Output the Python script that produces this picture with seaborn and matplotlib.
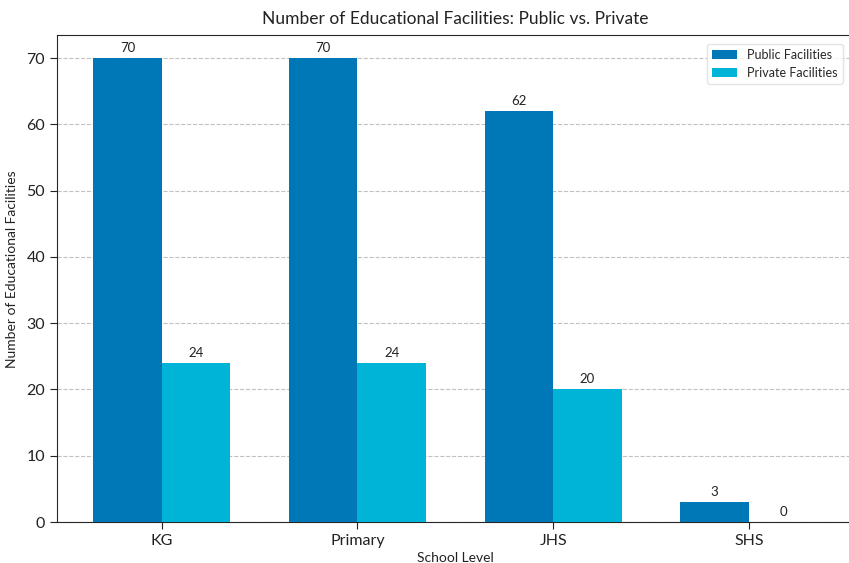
import matplotlib
matplotlib.use("Agg")
import matplotlib.pyplot as plt
import seaborn as sns
import pandas as pd

levels = ["KG", "Primary", "JHS", "SHS"]
public = [70, 70, 62, 3]
private = [24, 24, 20, 0]
series_names = ["Public Facilities", "Private Facilities"]
colors = ["#0077b6", "#00b4d8"]

df = pd.DataFrame({
    "School Level": levels * 2,
    "Count": public + private,
    "Type": [series_names[0]] * len(levels) + [series_names[1]] * len(levels),
})

sns.set_style("ticks")
plt.rcParams["font.family"] = ["Lato", "DejaVu Sans"]

fig = plt.figure(figsize=(8.49, 5.63), dpi=100)
ax = fig.add_axes([0.0671, 0.0728, 0.9384, 0.865])

sns.barplot(data=df, x="School Level", y="Count", hue="Type", palette=colors,
            width=0.7, saturation=1, ax=ax, zorder=3, linewidth=0, edgecolor="none")

for c in ax.containers:
    ax.bar_label(c, padding=3, fontsize=9.5, color="#222222")

ax.set_ylim(0, 73.5)
ax.set_xlim(-0.535, 3.535)
ax.set_yticks(range(0, 71, 10))
ax.grid(axis="y", linestyle="--", color="#bbbbbb", linewidth=0.8, alpha=0.9, zorder=0)
ax.set_axisbelow(True)
ax.tick_params(axis="both", labelsize=11.5, colors="#222222", length=5)
ax.set_xlabel("School Level", fontsize=10, color="#222222", labelpad=3)
ax.set_ylabel("Number of Educational Facilities", fontsize=10, color="#222222")
ax.yaxis.set_label_coords(-0.049, 0.52)
ax.set_title("Number of Educational Facilities: Public vs. Private", fontsize=12.5, color="#222222", pad=8)
leg = ax.legend(loc="upper right", bbox_to_anchor=(0.994, 0.995), fontsize=9, title=None, frameon=True)
leg.get_frame().set_edgecolor("#dddddd")

fig.savefig("out.png", dpi=100)
